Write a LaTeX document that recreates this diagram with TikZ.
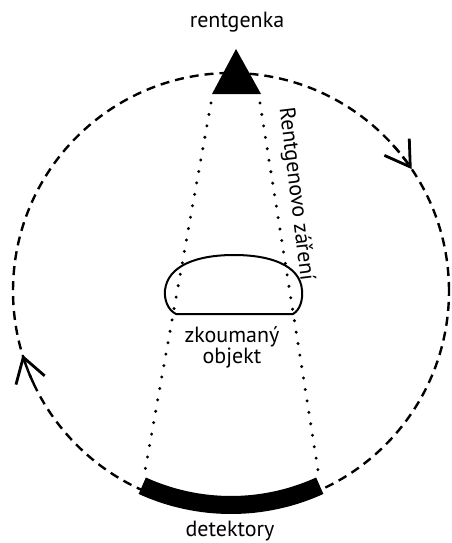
\documentclass[tikz,border=0pt]{standalone}
\usepackage{fontspec}
\setmainfont{PT Sans}
\usetikzlibrary{arrows.meta, positioning, calc}

\tikzset{
  orbit/.style={line width=2.4pt, dash pattern=on 9pt off 6pt},
  ray/.style={line width=3.3pt, line cap=round, dash pattern=on 0pt off 11.6pt},
  label/.style={font=\fontsize{22}{20}\selectfont, inner sep=1pt},
}

\begin{document}
\begin{tikzpicture}[x=1pt, y=-1pt, >={Straight Barb[length=24pt, width=30pt, line width=2.8pt]}]
        \useasboundingbox (0,0) rectangle (451,543);
        % Centre of rotation
        \coordinate (O) at (231,291);

        % Path of the tube
        \draw [orbit] (O) circle (218pt);
        \draw [->, orbit] ($(O)+(42:218pt)$) arc (42:34:218pt);
        \draw [->, orbit] ($(O)+(205:218pt)$) arc (205:197:218pt);

        % Tube
        \coordinate (apex) at (236,49);
        \coordinate (tubeL) at (212,94);
        \coordinate (tubeR) at (261,94);
        \fill [black] (apex) -- (tubeL) -- (tubeR) -- cycle;
        \node [label] (tube) at (237,22) {rentgenka};

        % Detectors
        \coordinate (detL) at ($(O)+(245.5:214pt)$);
        \coordinate (detR) at ($(O)+(294.5:214pt)$);
        \draw [line width=18pt] (detL) arc (245.5:294.5:214pt);
        \node [label] (det) at (230,531) {detektory};

        % Beam
        \draw [ray] (211,103) -- ($(detL)+(2,-11)$);
        \draw [ray] (260,103) -- ($(detR)+(-1,-11)$);
        \node [label, rotate=-83] (beam) at (296,194) {Rentgenovo záření};

        % Object
        \draw [line width=2pt, line join=round] (176,314) -- (293,314)
              .. controls (300,310) and (303,300) .. (302,290)
              .. controls (300,265) and (270,255) .. (234,255)
              .. controls (198,255) and (168,265) .. (165,290)
              .. controls (164,300) and (168,310) .. (176,314) -- cycle;
        \node [label, align=center] (obj) at (232,347) {zkoumaný\\objekt};
\end{tikzpicture}
\end{document}
